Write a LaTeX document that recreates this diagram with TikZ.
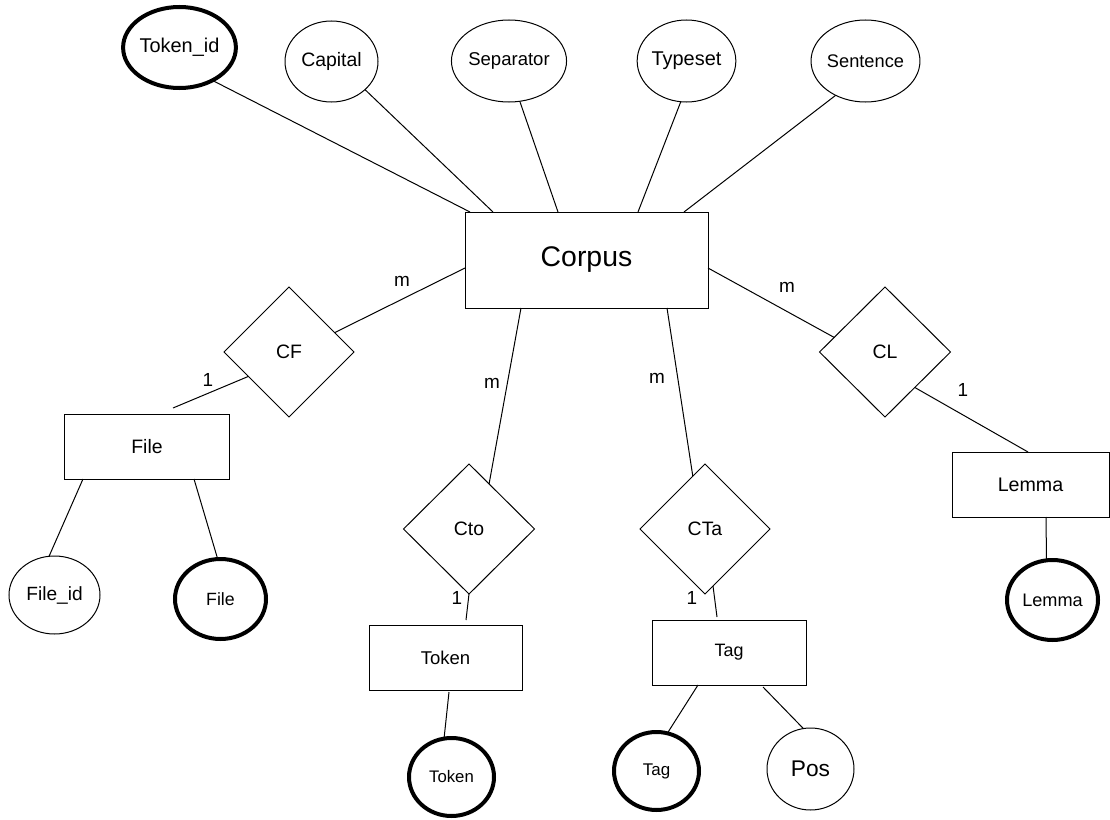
\documentclass[tikz,border=0pt]{standalone}
\usepackage{fontspec}
\setmainfont{Liberation Sans}
\usetikzlibrary{shapes.geometric}
\begin{document}
\begin{tikzpicture}[x=1bp,y=-1bp,
  every node/.style={inner sep=0pt, outer sep=0pt},
  fnt/.style={font=\fontsize{#1}{#1}\selectfont},
  ent/.style={draw, rectangle, line width=1bp},
  attr/.style={draw, ellipse, line width=1bp},
  keyattr/.style={draw, ellipse, line width=4bp},
  rel/.style={draw, diamond, aspect=1, line width=1bp, fnt=19.5},
  card/.style={fnt=19},
  conn/.style={line width=1bp}]
\useasboundingbox (0,0) rectangle (1110,820);

% entities
\node[ent, fnt=28.5, minimum width=243bp, minimum height=96bp] (corpus) at (586.5,260) {Corpus};
\node[ent, fnt=19.5, minimum width=164bp, minimum height=65bp] (file) at (147,446.5) {File};
\node[ent, fnt=18.6, minimum width=153bp, minimum height=65bp] (token) at (445.5,657.5) {Token};
\node[ent, fnt=18, minimum width=154bp, minimum height=65bp] (tag) at (729,652.5) {Tag};
\node[ent, fnt=19.7, minimum width=157bp, minimum height=65bp] (lemma) at (1030.5,484.5) {Lemma};

% relationships
\node[rel, minimum width=130bp, minimum height=130bp] (cf) at (289,352) {CF};
\node[rel, minimum width=131bp, minimum height=130bp] (cto) at (469,529) {Cto};
\node[rel, minimum width=130bp, minimum height=130bp] (cta) at (705,529) {CTa};
\node[rel, minimum width=131bp, minimum height=130bp] (cl) at (885,352) {CL};

% attributes
\node[keyattr, fnt=20, minimum width=91bp, minimum height=81bp] (tokenid) at (179.5,47.5) {Token\_id};
\node[attr, fnt=19.5, minimum width=93bp, minimum height=81bp] (capital) at (331.5,61.5) {Capital};
\node[attr, fnt=18.6, minimum width=92bp, minimum height=82bp] (separator) at (509,61) {Separator};
\node[attr, fnt=20, minimum width=93bp, minimum height=82bp] (typeset) at (686.5,61) {Typeset};
\node[attr, fnt=18.3, minimum width=95bp, minimum height=82bp] (sentence) at (865.5,61) {Sentence};
\node[attr, fnt=19.2, minimum width=91bp, minimum height=78bp] (fileid) at (54.5,595) {File\_id};
\node[keyattr, fnt=17.8, minimum width=91bp, minimum height=80bp] (filekey) at (220.5,599) {File};
\node[keyattr, fnt=16.8, minimum width=85bp, minimum height=78bp] (tokenkey) at (451.5,777) {Token};
\node[keyattr, fnt=17, minimum width=85bp, minimum height=78bp] (tagkey) at (656.5,771) {Tag};
\node[attr, fnt=22.8, minimum width=87bp, minimum height=82bp] (pos) at (810.5,769) {Pos};
\node[keyattr, fnt=18.2, minimum width=91bp, minimum height=80bp] (lemmakey) at (1052.5,600) {Lemma};

% attribute connectors to Corpus
\draw[conn] (tokenid.-45) -- ([xshift=5bp]corpus.north west);
\draw[conn] (capital.-40) -- ([xshift=28bp]corpus.north west);
\draw[conn] (separator.-75) -- ([xshift=93bp]corpus.north west);
\draw[conn] (typeset.-98) -- ([xshift=173bp]corpus.north west);
\draw[conn] (sentence.-131) -- ([xshift=219bp]corpus.north west);

% relationship connectors
\draw[conn] ([yshift=-8bp]corpus.west) -- (cf.23);
\draw[conn] (cf.-149) -- ([xshift=26bp,yshift=6bp]file.north);
\draw[conn] ([xshift=56bp]corpus.south west) -- (cto.66);
\draw[conn] (cto.south) -- ([xshift=20.5bp,yshift=5bp]token.north);
\draw[conn] ([xshift=202bp]corpus.south west) -- (cta.103);
\draw[conn] (cta.-82) -- ([xshift=-12bp,yshift=3bp]tag.north);
\draw[conn] ([yshift=-8bp]corpus.east) -- (cl.164);
\draw[conn] (cl.-50) -- ([xshift=-2.5bp]lemma.north);

% entity attribute connectors
\draw[conn] ([xshift=-64bp]file.south) -- (fileid.98);
\draw[conn] ([xshift=47bp]file.south) -- (filekey.94);
\draw[conn] ([xshift=3.5bp,yshift=-2bp]token.south) -- (tokenkey.101);
\draw[conn] ([xshift=-31bp]tag.south) -- (tagkey.74);
\draw[conn] ([xshift=34bp,yshift=-2bp]tag.south) -- (pos.100);
\draw[conn] ([xshift=15.5bp]lemma.south) -- ([xshift=-6bp]lemmakey.north);

% cardinalities
\node[card] (mcf) at (402,281) {m};
\node[card] (onecf) at (208,380) {1};
\node[card] (mcto) at (492,383) {m};
\node[card] (onecto) at (457,598) {1};
\node[card] (mcta) at (657,378) {m};
\node[card] (onecta) at (692,598) {1};
\node[card] (mcl) at (787,287) {m};
\node[card] (onecl) at (963,390) {1};
\end{tikzpicture}
\end{document}
